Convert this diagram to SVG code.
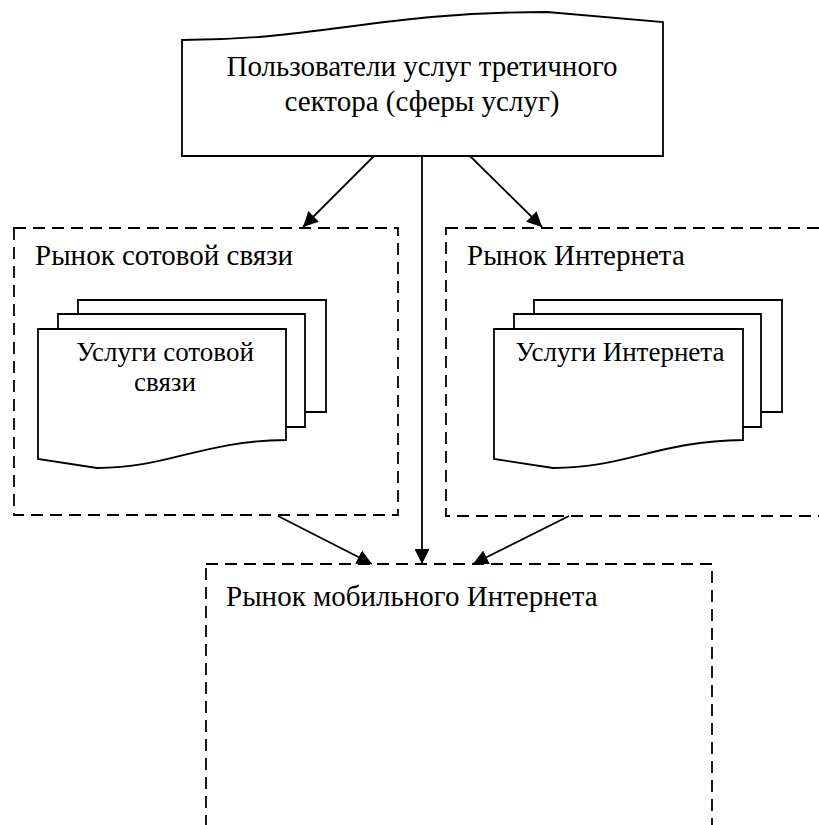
<svg xmlns="http://www.w3.org/2000/svg" width="819" height="825" viewBox="0 0 819 825">
<style>
.solid{fill:#fff;stroke:#000;stroke-width:1.8;stroke-linejoin:miter}
.dash{fill:none;stroke:#000;stroke-width:1.8;stroke-dasharray:12 7}
.conn{fill:none;stroke:#000;stroke-width:1.8}
text{font-family:"Liberation Serif","Times New Roman",serif;fill:#000}
.big{font-size:29px}
.doc{font-size:27px}
</style>
<defs>
<marker id="ah" viewBox="0 0 15 15" refX="15" refY="7.5" markerWidth="15" markerHeight="15" markerUnits="userSpaceOnUse" orient="auto">
<path d="M0,0 L15,7.5 L0,15 Z" fill="#000"/>
</marker>
</defs>
<rect width="819" height="825" fill="#fff"/>

<g id="users">
<path class="solid" d="M182,40 C320,40 380,12 547,12 L663,22 L663,156 L182,156 Z"/>
<text class="big" x="422" y="76" text-anchor="middle">Пользователи услуг третичного</text>
<text class="big" x="422" y="111" text-anchor="middle">сектора (сферы услуг)</text>
</g>

<g id="cellular-market">
<rect class="dash" x="14" y="228" width="384" height="287"/>
<text class="big" x="35" y="265">Рынок сотовой связи</text>
<g id="cellular-services">
<polyline class="solid" points="78,314 78,300 326,300 326,412 305,412"/>
<polyline class="solid" points="58,329 58,314 305,314 305,427 286,427"/>
<path class="solid" d="M38,329 L286,329 L286,440 C200,441 170,468 97,468 L38,459 Z"/>
<text class="doc" x="165" y="361" text-anchor="middle">Услуги сотовой</text>
<text class="doc" x="165" y="391" text-anchor="middle">связи</text>
</g>
</g>

<g id="internet-market">
<rect class="dash" x="446" y="228" width="390" height="288"/>
<text class="big" x="467" y="265">Рынок Интернета</text>
<g id="internet-services">
<polyline class="solid" points="534,314 534,300 782,300 782,412 761,412"/>
<polyline class="solid" points="514,329 514,314 761,314 761,427 743,427"/>
<path class="solid" d="M494,329 L743,329 L743,440 C657,441 627,468 553,468 L494,459 Z"/>
<text class="doc" x="620" y="361" text-anchor="middle">Услуги Интернета</text>
</g>
</g>

<g id="mobile-internet-market">
<rect class="dash" x="206" y="564" width="506" height="300"/>
<text class="big" x="226" y="606">Рынок мобильного Интернета</text>
</g>

<g id="connectors">
<line class="conn" x1="374" y1="156" x2="303" y2="227" marker-end="url(#ah)"/>
<line class="conn" x1="470" y1="156" x2="542" y2="227" marker-end="url(#ah)"/>
<line class="conn" x1="422" y1="156" x2="422" y2="564" marker-end="url(#ah)"/>
<line class="conn" x1="278" y1="516" x2="372" y2="564" marker-end="url(#ah)"/>
<line class="conn" x1="569" y1="516" x2="473" y2="564" marker-end="url(#ah)"/>
</g>
</svg>
